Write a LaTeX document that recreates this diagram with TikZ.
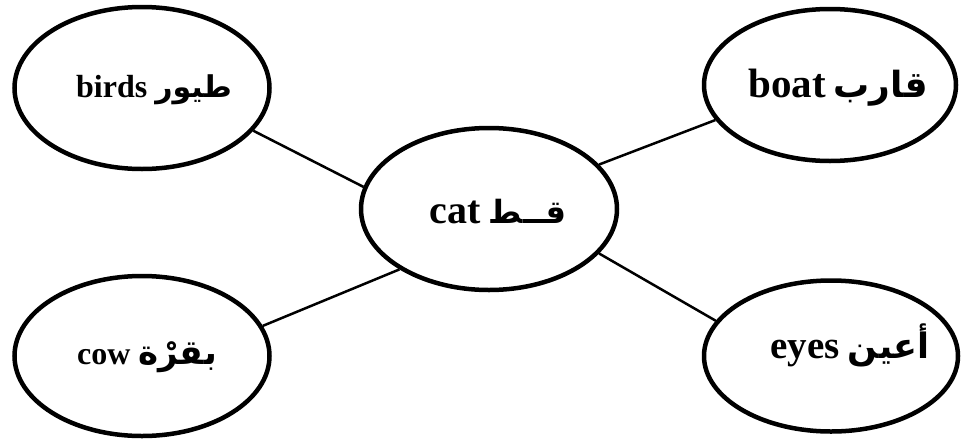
\documentclass[tikz,border=0pt]{standalone}
\usepackage{fontspec}
\setmainfont{Liberation Serif}
\newfontfamily\arabicfont[Script=Arabic]{DejaVu Sans}
\TeXXeTstate=1
\usetikzlibrary{shapes.geometric}
\tikzset{
  bubble/.style={ellipse, draw=black, line width=4.5pt, inner sep=0pt, fill=white},
  word/.style={anchor=base, inner sep=0pt},
  link/.style={draw=black, line width=2.5pt},
}
\newcommand{\lbl}[4]{{\fontsize{#1}{#1}\selectfont\bfseries #2}\hspace{8pt}{\arabicfont\bfseries\fontsize{#3}{#3}\selectfont\beginR #4\endR}}
\begin{document}
\begin{tikzpicture}[x=1pt,y=-1pt]
\useasboundingbox (0,0) rectangle (961,442);
\node[bubble, minimum width=255pt, minimum height=162pt] (birds) at (142,88) {};
\node[bubble, minimum width=252pt, minimum height=152pt] (boat) at (830,85) {};
\node[bubble, minimum width=256pt, minimum height=162pt] (cat) at (489,209) {};
\node[bubble, minimum width=255pt, minimum height=160pt] (cow) at (142,356) {};
\node[bubble, minimum width=254pt, minimum height=151pt] (eyes) at (831,356) {};
\node[word] (birdsT) at (154,97) {\lbl{32pt}{birds}{30pt}{طيور}};
\node[word] (boatT) at (838,97) {\lbl{41pt}{boat}{36pt}{قارب}};
\node[word] (catT) at (498,223) {\lbl{40pt}{cat}{32pt}{قــط}};
\node[word] (cowT) at (147,364) {\lbl{32pt}{cow}{34pt}{بقرْة}};
\node[word] (eyesT) at (850,358) {\lbl{39pt}{eyes}{35pt}{أعين}};
\draw[link] (birds.-21) -- (cat.170);
\draw[link] (boat.197.5) -- (cat.22);
\draw[link] (cow.14.4) -- (cat.214.7);
\draw[link] (eyes.163.6) -- (cat.-22.5);
\end{tikzpicture}
\end{document}
